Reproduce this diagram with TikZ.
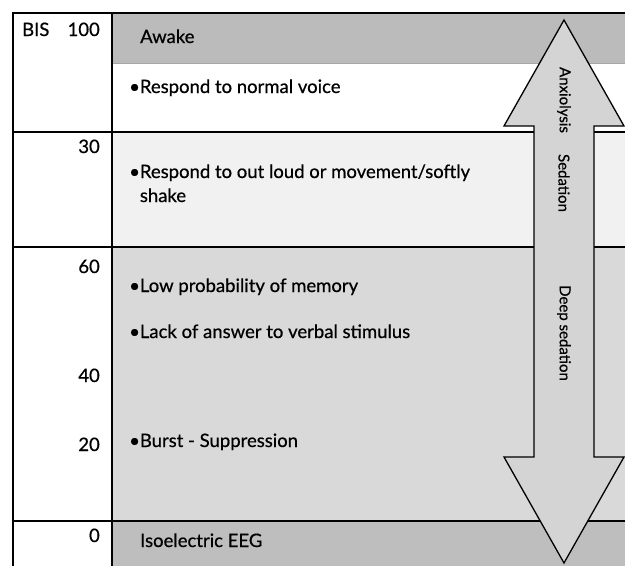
\documentclass[tikz,border=0pt]{standalone}
\usepackage{fontspec}
\setmainfont{Lato}[FakeBold=0.6]
\usetikzlibrary{positioning}
\definecolor{bandawake}{HTML}{BBBBBB}
\definecolor{bandlight}{HTML}{F1F1F1}
\definecolor{banddeep}{HTML}{D9D9D9}
\definecolor{bandiso}{HTML}{BEBEBE}
\definecolor{arrowfill}{HTML}{D4D4D4}
\tikzset{
  % BIS value in the left column
  bislevel/.style={font=\fontsize{18.5}{22}\selectfont, anchor=base east,
                   inner sep=0pt},
  % heading of a band
  bandhead/.style={font=\fontsize{18.5}{22}\selectfont, anchor=base west,
                   inner sep=0pt},
  % bullet item of a band
  banditem/.style={font=\fontsize{18.5}{24}\selectfont, anchor=base west,
                   inner sep=0pt, align=left},
  % text along the double arrow
  arrowtext/.style={font=\fontsize{15}{16}\selectfont, rotate=-90,
                    inner sep=0pt},
  % table rules
  rule/.style={black, line width=1.6pt},
}

\begin{document}
\begin{tikzpicture}[x=1pt, y=-1pt]
  \useasboundingbox (0,0) rectangle (625,566);
  % bands
  \fill[bandawake] (112,13) rectangle (625,63);
  \fill[bandlight] (112,132) rectangle (625,247);
  \fill[banddeep]  (112,247) rectangle (625,521);
  \fill[bandiso]   (112,521) rectangle (625,566);
  \draw[gray!70, line width=0.8pt] (112,63) -- (625,63);
  % table rules
  \draw[rule] (13,566) -- (13,13) -- (625,13);
  \draw[rule] (112,13) -- (112,566);
  \foreach \y in {132,247,521}
    \draw[rule] (13,\y) -- (625,\y);

  % double arrow
  \draw[fill=arrowfill, draw=black, line width=1.3pt, line join=miter]
    (564,20) -- (624,126) -- (594,126) -- (594,457) -- (624,457)
    -- (564,563) -- (504,457) -- (534,457) -- (534,126) -- (504,126)
    -- cycle;
  \node[arrowtext] (anx)  at (564,100) {Anxiolysis};
  \node[arrowtext] (sed)  at (564,183) {Sedation};
  \node[arrowtext] (deep) at (564,333) {Deep sedation};

  % left column
  \node[font=\fontsize{18.5}{22}\selectfont, anchor=base west, inner sep=0pt]
    (bis) at (22,36) {BIS};
  \node[bislevel] (l100) at (100,36)  {100};
  \node[bislevel] (l30)  at (100,153) {30};
  \node[bislevel] (l60)  at (100,273) {60};
  \node[bislevel] (l40)  at (100,382) {40};
  \node[bislevel] (l20)  at (100,451) {20};
  \node[bislevel] (l0)   at (100,542) {0};

  % band texts
  \node[bandhead] (awake) at (140,43) {Awake};
  \node[banditem] (voice) at (129,93) {\textbullet Respond to normal voice};
  \node[banditem] (shake) at (129,202)
    {\textbullet Respond to out loud or movement/softly\\
     \hphantom{\textbullet}shake};
  \node[banditem] (memory) at (129,292) {\textbullet Low probability of memory};
  \node[banditem] (verbal) at (129,338)
    {\textbullet Lack of answer to verbal stimulus};
  \node[banditem] (burst) at (129,447) {\textbullet Burst - Suppression};
  \node[bandhead] (iso) at (140,547) {Isoelectric EEG};
\end{tikzpicture}
\end{document}
